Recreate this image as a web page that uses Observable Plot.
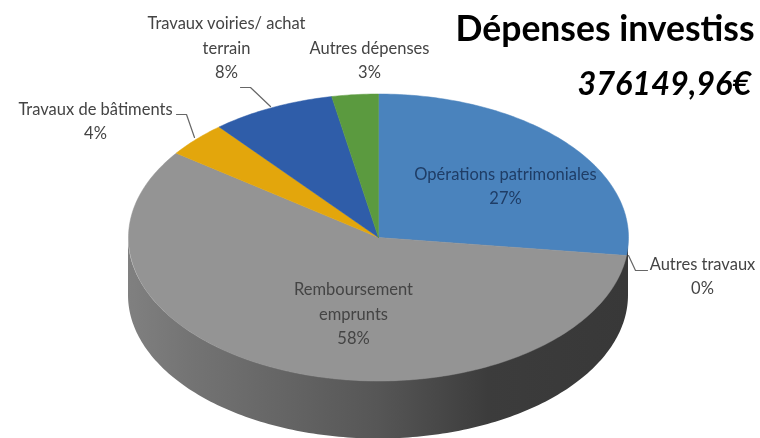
<!DOCTYPE html>
<html lang="fr">
<head>
<meta charset="utf-8">
<script src="https://cdn.jsdelivr.net/npm/d3@7"></script>
<script src="https://cdn.jsdelivr.net/npm/@observablehq/plot@0.6"></script>
<style>html,body{margin:0;padding:0;background:#fff;overflow:hidden}svg{display:block}</style>
</head>
<body>
<div id="chart"></div>
<script>
// Data, clockwise from the top of the pie
const categories = ["Opérations patrimoniales", "Autres travaux", "Remboursement emprunts", "Travaux de bâtiments", "Travaux voiries/ achat terrain", "Autres dépenses"];
const percents = [27, 0, 58, 4, 8, 3];
const sliceColors = ["#4a83bd", "#3a3a3a", "#949494", "#e3a60c", "#2f5da9", "#5b9a3f"];
const labelLines = [["Opérations patrimoniales"], ["Autres travaux"], ["Remboursement", "emprunts"], ["Travaux de bâtiments"], ["Travaux voiries/ achat", "terrain"], ["Autres dépenses"]];
const titleText = "Dépenses investiss";
const totalText = "376149,96€";

// Layout (pixels of the 760x438 picture)
const W = 760, H = 438, CX = 378, CY = 237, RX = 250, RY = 143.5, DEPTH = 58;
const ux = px => (px - CX) / RX, uy = py => (py - CY) / RY;
const labelAt = [[505, 186, "#1f3d66"], [702, 276, "#444"], [353, 314, "#444"], [95, 121, "#444"], [226, 48, "#444"], [369, 60, "#444"]];
const leaders = [
  {name: "Travaux voiries", path: [[240, 87], [250, 87], [270, 106]]},
  {name: "Travaux de bâtiments", path: [[176, 114], [186, 114], [194, 137]]},
  {name: "Autres travaux", path: [[628, 255], [635, 270], [647, 270]]}
];

// Top-face polygons derived from the percentages
const total = d3.sum(percents);
const slicePoints = [];
let acc = 0;
percents.forEach((p, i) => {
  const a0 = acc / total * 2 * Math.PI, a1 = (acc + p) / total * 2 * Math.PI;
  acc += p;
  if (p === 0) return;
  slicePoints.push({name: categories[i], x: 0, y: 0});
  const n = Math.max(2, Math.ceil((a1 - a0) * 60));
  for (let k = 0; k <= n; k++) {
    const a = a0 + (a1 - a0) * k / n;
    slicePoints.push({name: categories[i], x: Math.sin(a), y: -Math.cos(a)});
  }
  slicePoints.push({name: categories[i], x: 0, y: 0});
});

// Side wall: lower half of the ellipse, pushed down by the pie's thickness
const wall = d3.range(0, 181).map(d => {
  const a = d * Math.PI / 180;
  return {x: -Math.cos(a), y1: Math.sin(a), y2: Math.sin(a) + DEPTH / RY};
});

const labels = labelLines.map((lines, i) => ({
  text: [...lines, percents[i] + "%"].join("\n"),
  x: ux(labelAt[i][0]), y: uy(labelAt[i][1] - 2.5), color: labelAt[i][2]
}));
const leaderPoints = leaders.flatMap(l => l.path.map(([x, y]) => ({name: l.name, x: ux(x), y: uy(y)})));

const gradient = () => {
  const defs = d3.create("svg:defs");
  const g = defs.append("linearGradient").attr("id", "side").attr("x1", 0).attr("x2", 1).attr("y1", 0).attr("y2", 0);
  [[0, "#808080"], [0.12, "#747474"], [0.5, "#565656"], [0.72, "#3c3c3c"], [1, "#383838"]].forEach(([o, c]) =>
    g.append("stop").attr("offset", o).attr("stop-color", c));
  return defs.node();
};

const chart = Plot.plot({
  width: W, height: H, margin: 0,
  style: {background: "#fff", filter: "blur(0.55px)", fontFamily: "Lato, sans-serif"},
  x: {domain: [ux(0), ux(W)], range: [0, W], axis: null},
  y: {domain: [uy(0), uy(H)], range: [0, H], axis: null},
  color: {domain: categories, range: sliceColors},
  marks: [
    gradient,
    Plot.areaY(wall, {x: "x", y1: "y1", y2: "y2", fill: "url(#side)"}),
    Plot.line(slicePoints, {x: "x", y: "y", z: "name", fill: "name", stroke: "name", strokeWidth: 0.5, curve: "linear"}),
    Plot.line(leaderPoints, {x: "x", y: "y", z: "name", stroke: "#666", strokeWidth: 1.2}),
    Plot.text(labels, {x: "x", y: "y", text: "text", fill: "color", fontSize: 16.5, lineHeight: 1.48, textAnchor: "middle"}),
    Plot.text([titleText], {x: ux(455), y: uy(29), text: d => d, textAnchor: "start", fontSize: 35.5, fontWeight: 700, fill: "#000"}),
    Plot.text([totalText], {x: ux(577), y: uy(84), text: d => d, textAnchor: "start", fontSize: 32.4, fontWeight: 700, fontStyle: "italic", fill: "#000"})
  ]
});
document.getElementById("chart").append(chart);
</script>
</body>
</html>
